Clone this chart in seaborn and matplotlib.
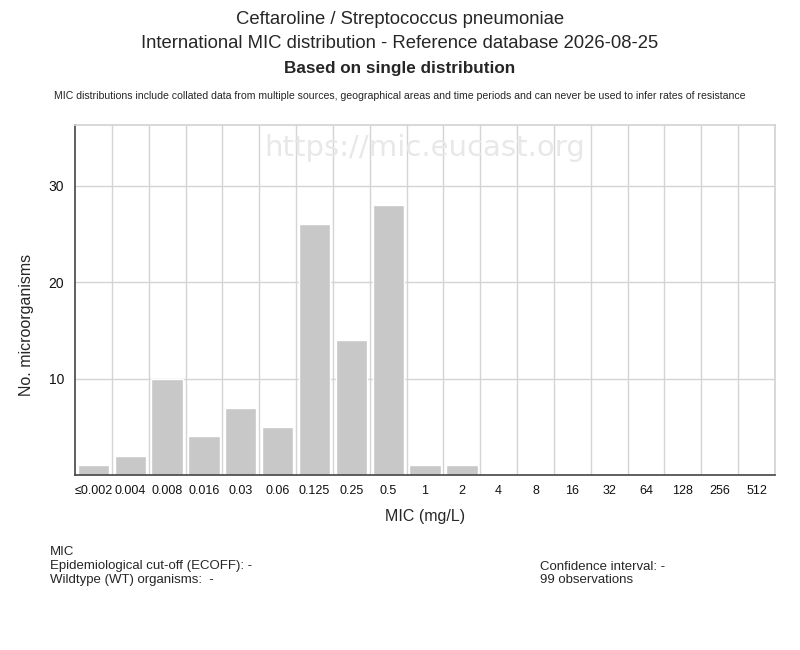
import numpy as np
import pandas as pd
import matplotlib
matplotlib.use("Agg")
import matplotlib.pyplot as plt
import seaborn as sns

# MIC-распределение
mic_labels = ["≤0.002", "0.004", "0.008", "0.016", "0.03", "0.06", "0.125", "0.25", "0.5",
              "1", "2", "4", "8", "16", "32", "64", "128", "256", "512"]
counts = [1, 2, 10, 4, 7, 5, 26, 14, 28, 1, 1, 0, 0, 0, 0, 0, 0, 0, 0]
y_ticks = [10, 20, 30]

df = pd.DataFrame({"mic": mic_labels, "count": counts})

sns.set_theme(style="white")
plt.rcParams["font.family"] = ["Liberation Sans", "DejaVu Sans"]

fig = plt.figure(figsize=(8, 6.5), dpi=100)
ax = fig.add_axes([0.09375, 0.2692, 0.875, 0.5385])

sns.barplot(data=df, x="mic", y="count", color="#c8c8c8", width=0.85,
            saturation=1, ax=ax, zorder=2)

n = len(mic_labels)
ax.set_xlim(-0.5, n - 0.5)
ax.set_ylim(0, 36.3)
ax.set_yticks(y_ticks)
ax.set_xticks(np.arange(n) + 0.5, minor=True)
ax.grid(axis="y", which="major", color="#d4d4d4", lw=1, zorder=0)
ax.grid(axis="x", which="minor", color="#d4d4d4", lw=1, zorder=0)
ax.grid(axis="x", which="major", visible=False)
ax.tick_params(axis="both", which="both", length=0, colors="#111111")
ax.tick_params(axis="x", pad=7, labelsize=9)
ax.tick_params(axis="y", pad=8, labelsize=10)

for side in ["top", "right"]:
    ax.spines[side].set_color("#d4d4d4")
for side in ["left", "bottom"]:
    ax.spines[side].set_color("#444444")
    ax.spines[side].set_linewidth(1.2)

ax.set_xlabel("MIC (mg/L)", fontsize=11.5, labelpad=9)
ax.set_ylabel("No. microorganisms", fontsize=11.5)
ax.yaxis.set_label_coords(-0.058, 0.43)

# водяной знак
ax.text(0.5, 0.935, "https://mic.eucast.org", transform=ax.transAxes, ha="center", va="center",
        fontsize=21, color="#e8e8e8", family="DejaVu Sans", zorder=1)

# заголовки
fig.text(0.5, 1 - 19 / 650, "Ceftaroline / Streptococcus pneumoniae", ha="center", va="center", fontsize=13.3)
fig.text(0.5, 1 - 44 / 650, "International MIC distribution - Reference database 2026-08-25",
         ha="center", va="center", fontsize=13.3)
fig.text(0.5, 1 - 69 / 650, "Based on single distribution", ha="center", va="center",
         fontsize=12.3, fontweight="bold")
fig.text(0.5, 1 - 96 / 650, "MIC distributions include collated data from multiple sources, geographical areas "
         "and time periods and can never be used to infer rates of resistance",
         ha="center", va="center", fontsize=7.6)

# нижняя информация
left_lines = ["MIC", "Epidemiological cut-off (ECOFF): -", "Wildtype (WT) organisms:  -"]
for i, t in enumerate(left_lines):
    fig.text(50 / 800, 1 - (552 + 14 * i) / 650, t, ha="left", va="center", fontsize=9.5)
right_lines = ["Confidence interval: -", "99 observations"]
for i, t in enumerate(right_lines):
    fig.text(540 / 800, 1 - (567 + 13 * i) / 650, t, ha="left", va="center", fontsize=9.5)

fig.savefig("out.png", dpi=100)
